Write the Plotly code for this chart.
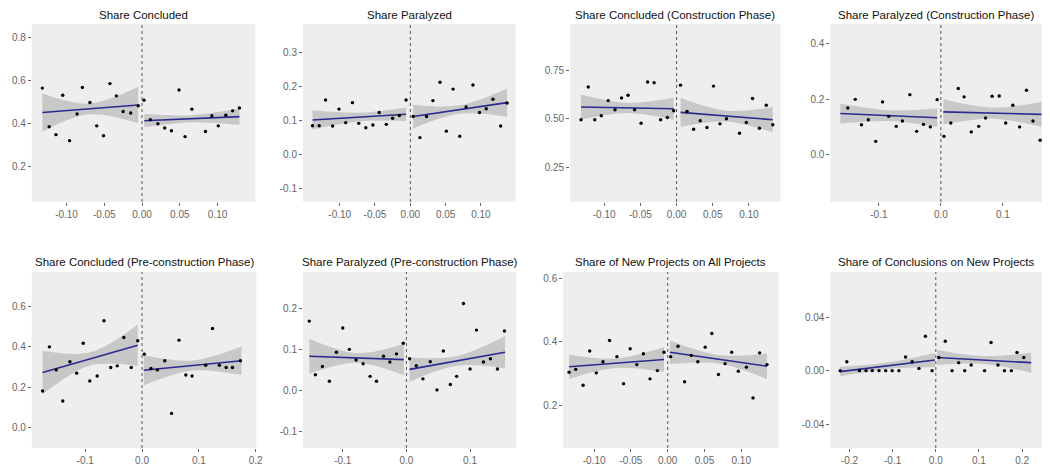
import plotly.graph_objects as go

W, H = 1050, 467

titles = [
    "Share Concluded",
    "Share Paralyzed",
    "Share Concluded (Construction Phase)",
    "Share Paralyzed (Construction Phase)",
    "Share Concluded (Pre-construction Phase)",
    "Share Paralyzed (Pre-construction Phase)",
    "Share of New Projects on All Projects",
    "Share of Conclusions on New Projects",
]

# ---- Share Concluded ----
concl_xl = [-0.132, -0.123, -0.114, -0.105, -0.096, -0.086, -0.079, -0.069, -0.060, -0.051, -0.0425, -0.034, -0.025, -0.015, -0.005]
concl_yl = [0.566, 0.386, 0.349, 0.533, 0.321, 0.445, 0.569, 0.499, 0.390, 0.344, 0.587, 0.530, 0.457, 0.450, 0.484]
concl_xr = [0.0026, 0.011, 0.021, 0.030, 0.039, 0.049, 0.057, 0.066, 0.084, 0.0925, 0.101, 0.111, 0.120, 0.129]
concl_yr = [0.510, 0.419, 0.400, 0.380, 0.367, 0.557, 0.340, 0.468, 0.364, 0.437, 0.390, 0.440, 0.460, 0.473]
concl_fit_xl, concl_fit_yl = [-0.132, -0.005], [0.452, 0.487]
concl_fit_xr, concl_fit_yr = [0.003, 0.129], [0.414, 0.433]
concl_band_xl, concl_lo_l, concl_hi_l = [-0.132, -0.07, -0.005], [0.363, 0.444, 0.402], [0.541, 0.494, 0.572]
concl_band_xr, concl_lo_r, concl_hi_r = [0.003, 0.066, 0.129], [0.383, 0.407, 0.394], [0.445, 0.440, 0.472]

# ---- Share Paralyzed ----
paral_xl = [-0.1385, -0.129, -0.120, -0.110, -0.101, -0.0915, -0.082, -0.073, -0.063, -0.053, -0.044, -0.034, -0.025, -0.0155, -0.006]
paral_yl = [0.085, 0.085, 0.161, 0.084, 0.134, 0.094, 0.153, 0.092, 0.079, 0.087, 0.124, 0.089, 0.107, 0.115, 0.161]
paral_xr = [0.004, 0.0136, 0.023, 0.032, 0.042, 0.051, 0.0606, 0.070, 0.079, 0.0887, 0.098, 0.1075, 0.117, 0.128, 0.137]
paral_yr = [0.112, 0.050, 0.112, 0.159, 0.213, 0.069, 0.193, 0.054, 0.140, 0.205, 0.124, 0.135, 0.163, 0.084, 0.152]
paral_fit_xl, paral_fit_yl = [-0.1385, -0.006], [0.102, 0.119]
paral_fit_xr, paral_fit_yr = [0.004, 0.137], [0.112, 0.153]
paral_band_xl, paral_lo_l, paral_hi_l = [-0.1385, -0.072, -0.006], [0.0735, 0.0975, 0.099], [0.1305, 0.1235, 0.139]
paral_band_xr, paral_lo_r, paral_hi_r = [0.004, 0.07, 0.137], [0.077, 0.120, 0.1115], [0.147, 0.145, 0.1945]

# ---- Share Concluded (Construction Phase) ----
cconc_xl = [-0.132, -0.122, -0.113, -0.104, -0.0945, -0.085, -0.076, -0.067, -0.058, -0.049, -0.040, -0.031, -0.022, -0.0127, -0.004]
cconc_yl = [0.495, 0.664, 0.495, 0.516, 0.594, 0.547, 0.608, 0.622, 0.547, 0.477, 0.690, 0.686, 0.495, 0.507, 0.542]
cconc_xr = [0.0055, 0.0145, 0.0236, 0.0327, 0.042, 0.051, 0.060, 0.069, 0.087, 0.0964, 0.105, 0.1145, 0.124, 0.133]
cconc_yr = [0.674, 0.538, 0.446, 0.490, 0.455, 0.669, 0.474, 0.500, 0.425, 0.481, 0.605, 0.451, 0.570, 0.469]
cconc_fit_xl, cconc_fit_yl = [-0.132, -0.004], [0.561, 0.552]
cconc_fit_xr, cconc_fit_yr = [0.0055, 0.133], [0.533, 0.495]
cconc_band_xl, cconc_lo_l, cconc_hi_l = [-0.132, -0.068, -0.004], [0.496, 0.5305, 0.4955], [0.626, 0.5825, 0.6085]
cconc_band_xr, cconc_lo_r, cconc_hi_r = [0.0055, 0.069, 0.133], [0.459, 0.486, 0.430], [0.607, 0.542, 0.560]

# ---- Share Paralyzed (Construction Phase) ----
cpar_xl = [-0.150, -0.138, -0.128, -0.117, -0.105, -0.094, -0.084, -0.072, -0.062, -0.050, -0.039, -0.028, -0.017, -0.006]
cpar_yl = [0.168, 0.199, 0.108, 0.126, 0.048, 0.190, 0.138, 0.102, 0.121, 0.216, 0.084, 0.109, 0.100, 0.198]
cpar_xr = [0.005, 0.016, 0.028, 0.0375, 0.049, 0.061, 0.072, 0.0826, 0.094, 0.1045, 0.116, 0.127, 0.138, 0.1485, 0.160]
cpar_yr = [0.066, 0.114, 0.238, 0.208, 0.082, 0.102, 0.132, 0.210, 0.211, 0.114, 0.178, 0.100, 0.232, 0.121, 0.052]
cpar_fit_xl, cpar_fit_yl = [-0.162, -0.006], [0.148, 0.133]
cpar_fit_xr, cpar_fit_yr = [0.004, 0.162], [0.154, 0.145]
cpar_band_xl, cpar_lo_l, cpar_hi_l = [-0.162, -0.084, -0.006], [0.112, 0.121, 0.100], [0.184, 0.160, 0.166]
cpar_band_xr, cpar_lo_r, cpar_hi_r = [0.004, 0.083, 0.162], [0.109, 0.1295, 0.1005], [0.199, 0.1695, 0.1895]

# ---- Share Concluded (Pre-construction Phase) ----
pconc_xl = [-0.175, -0.163, -0.151, -0.1395, -0.127, -0.115, -0.1035, -0.092, -0.079, -0.067, -0.055, -0.0436, -0.032, -0.019, -0.0076]
pconc_yl = [0.182, 0.400, 0.286, 0.132, 0.326, 0.270, 0.418, 0.231, 0.256, 0.529, 0.298, 0.306, 0.446, 0.298, 0.430]
pconc_xr = [0.004, 0.0157, 0.027, 0.040, 0.052, 0.065, 0.077, 0.088, 0.112, 0.124, 0.136, 0.148, 0.159, 0.173]
pconc_yr = [0.364, 0.293, 0.286, 0.331, 0.071, 0.433, 0.261, 0.256, 0.309, 0.491, 0.309, 0.298, 0.298, 0.331]
pconc_fit_xl, pconc_fit_yl = [-0.175, -0.0076], [0.273, 0.408]
pconc_fit_xr, pconc_fit_yr = [0.003, 0.175], [0.284, 0.331]
pconc_band_xl, pconc_lo_l, pconc_hi_l = [-0.175, -0.091, -0.0076], [0.1655, 0.3075, 0.305], [0.3805, 0.3735, 0.511]
pconc_band_xr, pconc_lo_r, pconc_hi_r = [0.003, 0.089, 0.175], [0.2095, 0.2825, 0.2605], [0.3585, 0.3325, 0.4015]

# ---- Share Paralyzed (Pre-construction Phase) ----
ppar_xl = [-0.1526, -0.143, -0.132, -0.121, -0.110, -0.100, -0.0896, -0.079, -0.068, -0.057, -0.047, -0.036, -0.026, -0.0156, -0.005]
ppar_yl = [0.170, 0.039, 0.059, 0.023, 0.094, 0.153, 0.101, 0.075, 0.066, 0.035, 0.023, 0.084, 0.070, 0.090, 0.116]
ppar_xr = [0.005, 0.0156, 0.026, 0.0375, 0.048, 0.058, 0.069, 0.079, 0.0896, 0.100, 0.110, 0.121, 0.132, 0.143, 0.154]
ppar_yr = [0.078, 0.061, 0.029, 0.071, 0.002, 0.097, 0.015, 0.035, 0.213, 0.053, 0.148, 0.070, 0.078, 0.053, 0.146]
ppar_fit_xl, ppar_fit_yl = [-0.1526, -0.004], [0.084, 0.076]
ppar_fit_xr, ppar_fit_yr = [0.005, 0.155], [0.052, 0.094]
ppar_band_xl, ppar_lo_l, ppar_hi_l = [-0.1526, -0.078, -0.004], [0.041, 0.068, 0.037], [0.127, 0.092, 0.115]
ppar_band_xr, ppar_lo_r, ppar_hi_r = [0.005, 0.08, 0.155], [0.022, 0.061, 0.0545], [0.081, 0.085, 0.1335]

# ---- Share of New Projects on All Projects ----
newp_xl = [-0.134, -0.125, -0.115, -0.106, -0.097, -0.088, -0.079, -0.069, -0.060, -0.051, -0.042, -0.033, -0.024, -0.014, -0.005]
newp_yl = [0.304, 0.313, 0.263, 0.371, 0.302, 0.337, 0.404, 0.353, 0.268, 0.378, 0.328, 0.362, 0.283, 0.309, 0.367]
newp_xr = [0.004, 0.014, 0.023, 0.032, 0.041, 0.051, 0.060, 0.069, 0.078, 0.087, 0.096, 0.107, 0.116, 0.125, 0.135]
newp_yr = [0.353, 0.386, 0.274, 0.357, 0.337, 0.383, 0.426, 0.297, 0.331, 0.367, 0.307, 0.320, 0.223, 0.365, 0.328]
newp_fit_xl, newp_fit_yl = [-0.134, -0.005], [0.321, 0.344]
newp_fit_xr, newp_fit_yr = [0.003, 0.135], [0.367, 0.323]
newp_band_xl, newp_lo_l, newp_hi_l = [-0.134, -0.07, -0.005], [0.283, 0.3175, 0.3045], [0.359, 0.3475, 0.3835]
newp_band_xr, newp_lo_r, newp_hi_r = [0.003, 0.069, 0.135], [0.330, 0.3315, 0.2825], [0.404, 0.3585, 0.3635]

# ---- Share of Conclusions on New Projects ----
cnew_xl = [-0.2215, -0.206, -0.177, -0.1615, -0.147, -0.1315, -0.116, -0.101, -0.0854, -0.070, -0.0546, -0.039, -0.024, -0.0085]
cnew_yl = [0.0, 0.0067, 0.0, 0.0, 0.0, 0.0, 0.0, 0.0, 0.0, 0.0102, 0.0067, 0.0017, 0.0258, 0.0]
cnew_xr = [0.007, 0.022, 0.0377, 0.053, 0.067, 0.082, 0.113, 0.128, 0.144, 0.159, 0.175, 0.188, 0.204]
cnew_yr = [0.0099, 0.0221, 0.0, 0.006, 0.0, 0.0042, 0.0, 0.0211, 0.0042, 0.0, 0.0, 0.0137, 0.0099]
cnew_fit_xl, cnew_fit_yl = [-0.2215, -0.002], [-0.0007, 0.008]
cnew_fit_xr, cnew_fit_yr = [0.003, 0.221], [0.0099, 0.006]
cnew_band_xl, cnew_lo_l, cnew_hi_l = [-0.2215, -0.112, -0.002], [-0.0044, 0.0012, 0.0027], [0.003, 0.0062, 0.0133]
cnew_band_xr, cnew_lo_r, cnew_hi_r = [0.003, 0.112, 0.221], [0.0043, 0.005, -0.0015], [0.0155, 0.011, 0.0135]

# ---- axis ticks ----
x_ticks_2d = [-0.10, -0.05, 0.00, 0.05, 0.10]
x_labels_2d = ["-0.10", "-0.05", "0.00", "0.05", "0.10"]
x_ticks_1d_short = [-0.1, 0.0, 0.1]
x_labels_1d_short = ["-0.1", "0.0", "0.1"]
x_ticks_1d_wide = [-0.2, -0.1, 0.0, 0.1, 0.2]
x_labels_1d_wide = ["-0.2", "-0.1", "0.0", "0.1", "0.2"]

y_ticks = [
    ([0.2, 0.4, 0.6, 0.8], ["0.2", "0.4", "0.6", "0.8"]),
    ([-0.1, 0.0, 0.1, 0.2, 0.3], ["-0.1", "0.0", "0.1", "0.2", "0.3"]),
    ([0.25, 0.50, 0.75], ["0.25", "0.50", "0.75"]),
    ([0.0, 0.2, 0.4], ["0.0", "0.2", "0.4"]),
    ([0.0, 0.2, 0.4, 0.6], ["0.0", "0.2", "0.4", "0.6"]),
    ([-0.1, 0.0, 0.1, 0.2], ["-0.1", "0.0", "0.1", "0.2"]),
    ([0.2, 0.4, 0.6], ["0.2", "0.4", "0.6"]),
    ([-0.04, 0.00, 0.04], ["-0.04", "0.00", "0.04"]),
]
x_ticks = [
    (x_ticks_2d, x_labels_2d), (x_ticks_2d, x_labels_2d), (x_ticks_2d, x_labels_2d),
    (x_ticks_1d_short, x_labels_1d_short), (x_ticks_1d_wide, x_labels_1d_wide),
    (x_ticks_1d_short, x_labels_1d_short), (x_ticks_2d, x_labels_2d), (x_ticks_1d_wide, x_labels_1d_wide),
]

x_ranges = [[-0.146, 0.150], [-0.152, 0.149], [-0.147, 0.144], [-0.178, 0.163],
            [-0.194, 0.201], [-0.1625, 0.173], [-0.142, 0.151], [-0.244, 0.246]]
y_ranges = [[0.035, 0.865], [-0.14, 0.385], [0.07, 0.99], [-0.17, 0.47],
            [-0.10, 0.77], [-0.14, 0.29], [0.065, 0.62], [-0.058, 0.074]]

panels = [
    (concl_xl, concl_yl, concl_xr, concl_yr, concl_fit_xl, concl_fit_yl, concl_fit_xr, concl_fit_yr,
     concl_band_xl, concl_lo_l, concl_hi_l, concl_band_xr, concl_lo_r, concl_hi_r),
    (paral_xl, paral_yl, paral_xr, paral_yr, paral_fit_xl, paral_fit_yl, paral_fit_xr, paral_fit_yr,
     paral_band_xl, paral_lo_l, paral_hi_l, paral_band_xr, paral_lo_r, paral_hi_r),
    (cconc_xl, cconc_yl, cconc_xr, cconc_yr, cconc_fit_xl, cconc_fit_yl, cconc_fit_xr, cconc_fit_yr,
     cconc_band_xl, cconc_lo_l, cconc_hi_l, cconc_band_xr, cconc_lo_r, cconc_hi_r),
    (cpar_xl, cpar_yl, cpar_xr, cpar_yr, cpar_fit_xl, cpar_fit_yl, cpar_fit_xr, cpar_fit_yr,
     cpar_band_xl, cpar_lo_l, cpar_hi_l, cpar_band_xr, cpar_lo_r, cpar_hi_r),
    (pconc_xl, pconc_yl, pconc_xr, pconc_yr, pconc_fit_xl, pconc_fit_yl, pconc_fit_xr, pconc_fit_yr,
     pconc_band_xl, pconc_lo_l, pconc_hi_l, pconc_band_xr, pconc_lo_r, pconc_hi_r),
    (ppar_xl, ppar_yl, ppar_xr, ppar_yr, ppar_fit_xl, ppar_fit_yl, ppar_fit_xr, ppar_fit_yr,
     ppar_band_xl, ppar_lo_l, ppar_hi_l, ppar_band_xr, ppar_lo_r, ppar_hi_r),
    (newp_xl, newp_yl, newp_xr, newp_yr, newp_fit_xl, newp_fit_yl, newp_fit_xr, newp_fit_yr,
     newp_band_xl, newp_lo_l, newp_hi_l, newp_band_xr, newp_lo_r, newp_hi_r),
    (cnew_xl, cnew_yl, cnew_xr, cnew_yr, cnew_fit_xl, cnew_fit_yl, cnew_fit_xr, cnew_fit_yr,
     cnew_band_xl, cnew_lo_l, cnew_hi_l, cnew_band_xr, cnew_lo_r, cnew_hi_r),
]

# panel boxes in pixels: (left, right, top, bottom)
boxes = [
    (32, 257, 24, 202), (305, 519, 24, 202), (574, 786, 24, 202), (836, 1049, 24, 202),
    (32, 258, 272, 448), (305, 520, 272, 448), (567, 784, 272, 448), (836, 1049, 272, 448),
]
title_y = [15, 15, 15, 15, 262, 262, 262, 262]

FONT = "Liberation Sans, Arial, sans-serif"
PANEL_BG = "#eeeeee"
BAND = "rgba(140,140,140,0.38)"
LINE = "#2a2a90"
TICK = "#666666"

fig = go.Figure()
layout = dict(
    width=W, height=H, margin=dict(l=0, r=0, t=0, b=0),
    paper_bgcolor="white", plot_bgcolor=PANEL_BG, showlegend=False,
    font=dict(family=FONT),
)
shapes, annotations = [], []

for i, (p, box) in enumerate(zip(panels, boxes)):
    sfx = "" if i == 0 else str(i + 1)
    xa, ya = f"x{sfx}", f"y{sfx}"
    (xl, yl, xr, yr, fxl, fyl, fxr, fyr, bxl, lol, hil, bxr, lor, hir) = p

    # confidence bands on each side of the cutoff
    for bx, lo, hi in ((bxl, lol, hil), (bxr, lor, hir)):
        fig.add_trace(go.Scatter(x=bx, y=lo, mode="lines", xaxis=xa, yaxis=ya,
                                 line=dict(width=0, shape="spline"), hoverinfo="skip"))
        fig.add_trace(go.Scatter(x=bx, y=hi, mode="lines", xaxis=xa, yaxis=ya, fill="tonexty",
                                 fillcolor=BAND, line=dict(width=0, shape="spline"), hoverinfo="skip"))
    # linear fits
    for fx, fy in ((fxl, fyl), (fxr, fyr)):
        fig.add_trace(go.Scatter(x=fx, y=fy, mode="lines", xaxis=xa, yaxis=ya,
                                 line=dict(color=LINE, width=1.6)))
    # binned means
    fig.add_trace(go.Scatter(x=xl + xr, y=yl + yr, mode="markers", xaxis=xa, yaxis=ya,
                             marker=dict(color="black", size=3.4)))

    l, r, t, b = box
    xt, xtl = x_ticks[i]
    yt, ytl = y_ticks[i]
    axis_common = dict(showgrid=False, zeroline=False, showline=False, ticks="outside",
                       ticklen=3, tickwidth=1, tickcolor=TICK,
                       tickfont=dict(family=FONT, size=10, color=TICK))
    layout[f"xaxis{sfx}"] = dict(domain=[l / W, r / W], range=x_ranges[i], anchor=ya,
                                 tickvals=xt, ticktext=xtl, **axis_common)
    layout[f"yaxis{sfx}"] = dict(domain=[1 - b / H, 1 - t / H], range=y_ranges[i], anchor=xa,
                                 tickvals=yt, ticktext=ytl, **axis_common)

    # cutoff marker
    shapes.append(dict(type="line", xref=xa, yref=f"{ya} domain", x0=0, x1=0, y0=0, y1=1,
                       line=dict(color="#555555", width=1, dash="dot"), layer="above"))
    annotations.append(dict(text=titles[i], xref="paper", yref="paper",
                            x=(l + r) / 2 / W, y=1 - title_y[i] / H, xanchor="center", yanchor="middle",
                            showarrow=False, font=dict(family=FONT, size=11.5, color="#111111")))

layout["shapes"] = shapes
layout["annotations"] = annotations
fig.update_layout(**layout)
fig.write_html("out.html")
